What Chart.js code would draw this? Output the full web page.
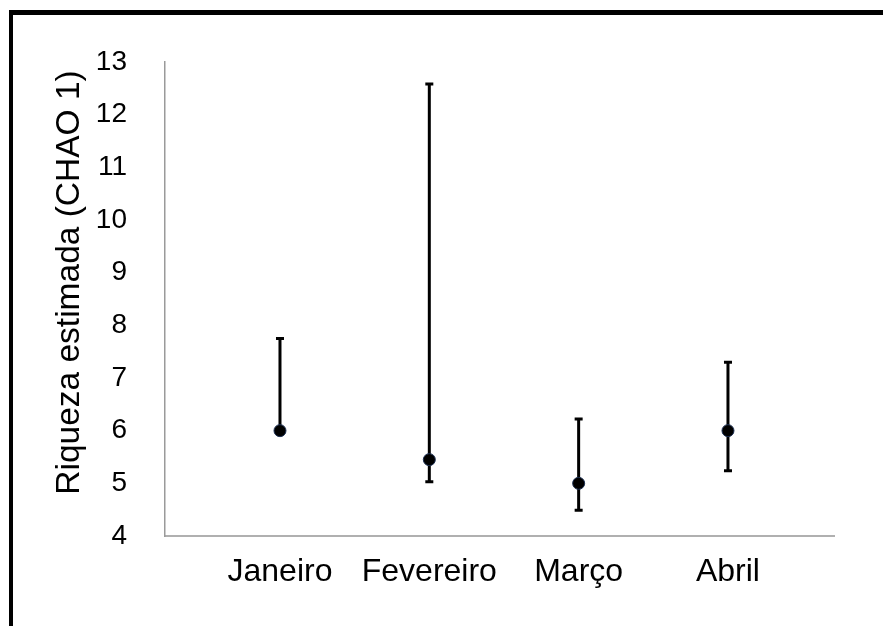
<!DOCTYPE html>
<html>
<head>
<meta charset="utf-8">
<script src="https://cdn.jsdelivr.net/npm/chart.js@4"></script>
<style>
  html, body { margin: 0; padding: 0; background: #ffffff; overflow: hidden; }
  #frame {
    position: absolute; left: 9px; top: 10px; width: 900px; height: 640px;
    border-left: 4px solid #000; border-top: 5px solid #000;
  }
  #chart { position: absolute; left: 0; top: 0; }
</style>
</head>
<body>
<div id="frame"></div>
<canvas id="chart" width="883" height="626"></canvas>
<script>
// Estimated richness (Chao 1) per month, with confidence limits
const categories = ['Janeiro', 'Fevereiro', 'Março', 'Abril'];
const chao1 = [6.0, 5.45, 5.0, 6.0];
const lowerLimit = [6.0, 5.03, 4.49, 5.24];
const upperLimit = [7.75, 12.58, 6.22, 7.30];
const yTicks = [4, 5, 6, 7, 8, 9, 10, 11, 12, 13];
const yTitle = 'Riqueza estimada (CHAO 1)';

const FONT = "'Liberation Sans', Arial, sans-serif";

// vertical error bars with caps, drawn underneath the points
const errorBars = {
  id: 'errorBars',
  beforeDatasetsDraw(chart) {
    const { ctx, scales: { x, y } } = chart;
    ctx.save();
    ctx.strokeStyle = '#000';
    ctx.lineWidth = 3;
    ctx.lineCap = 'butt';
    const capHalf = 4;
    categories.forEach((_, i) => {
      const px = x.getPixelForValue(i);
      const yLo = y.getPixelForValue(lowerLimit[i]);
      const yHi = y.getPixelForValue(upperLimit[i]);
      ctx.beginPath();
      ctx.moveTo(px, yLo);
      ctx.lineTo(px, yHi);
      if (upperLimit[i] !== chao1[i]) {
        ctx.moveTo(px - capHalf, yHi);
        ctx.lineTo(px + capHalf, yHi);
      }
      if (lowerLimit[i] !== chao1[i]) {
        ctx.moveTo(px - capHalf, yLo);
        ctx.lineTo(px + capHalf, yLo);
      }
      ctx.stroke();
    });
    ctx.restore();
  }
};

// rotated y-axis title, placed a little above the plot's vertical centre
const axisTitle = {
  id: 'axisTitle',
  afterDraw(chart) {
    const { ctx, chartArea } = chart;
    ctx.save();
    ctx.translate(chartArea.left - 95.5, (chartArea.top + chartArea.bottom) / 2 - 16.5);
    ctx.rotate(-Math.PI / 2);
    ctx.font = `33.5px ${FONT}`;
    ctx.fillStyle = '#000';
    ctx.textAlign = 'center';
    ctx.textBaseline = 'middle';
    ctx.fillText(yTitle, 0, 0);
    ctx.restore();
  }
};

new Chart(document.getElementById('chart'), {
  type: 'scatter',
  data: {
    datasets: [{
      data: categories.map((c, i) => ({ x: i, y: chao1[i] })),
      pointRadius: 6,
      pointBackgroundColor: '#000000',
      pointBorderColor: '#1c2f52',
      pointBorderWidth: 1,
      showLine: false
    }]
  },
  options: {
    responsive: false,
    animation: false,
    devicePixelRatio: 1,
    layout: { padding: { left: 30, top: 62, right: 49, bottom: 0 } },
    plugins: { legend: { display: false }, tooltip: { enabled: false } },
    scales: {
      x: {
        type: 'linear',
        min: -0.77,
        max: 3.71,
        grid: { display: false, drawTicks: false },
        border: { display: true, color: '#b0b0b0', width: 2 },
        afterBuildTicks(scale) {
          scale.ticks = categories.map((_, i) => ({ value: i }));
        },
        afterFit(scale) { scale.height = 90; },
        ticks: {
          autoSkip: false,
          maxRotation: 0,
          padding: 17,
          color: '#000',
          font: { family: FONT, size: 32 },
          callback: (v) => categories[v]
        }
      },
      y: {
        min: 4,
        max: 13,
        grid: { display: false, drawTicks: false },
        border: { display: true, color: '#9a9a9a', width: 1.5 },
        afterBuildTicks(scale) {
          scale.ticks = yTicks.map(v => ({ value: v }));
        },
        afterFit(scale) { scale.width = 135; },
        ticks: {
          padding: 38,
          color: '#000',
          font: { family: FONT, size: 28 }
        }
      }
    }
  },
  plugins: [errorBars, axisTitle]
});
</script>
</body>
</html>
